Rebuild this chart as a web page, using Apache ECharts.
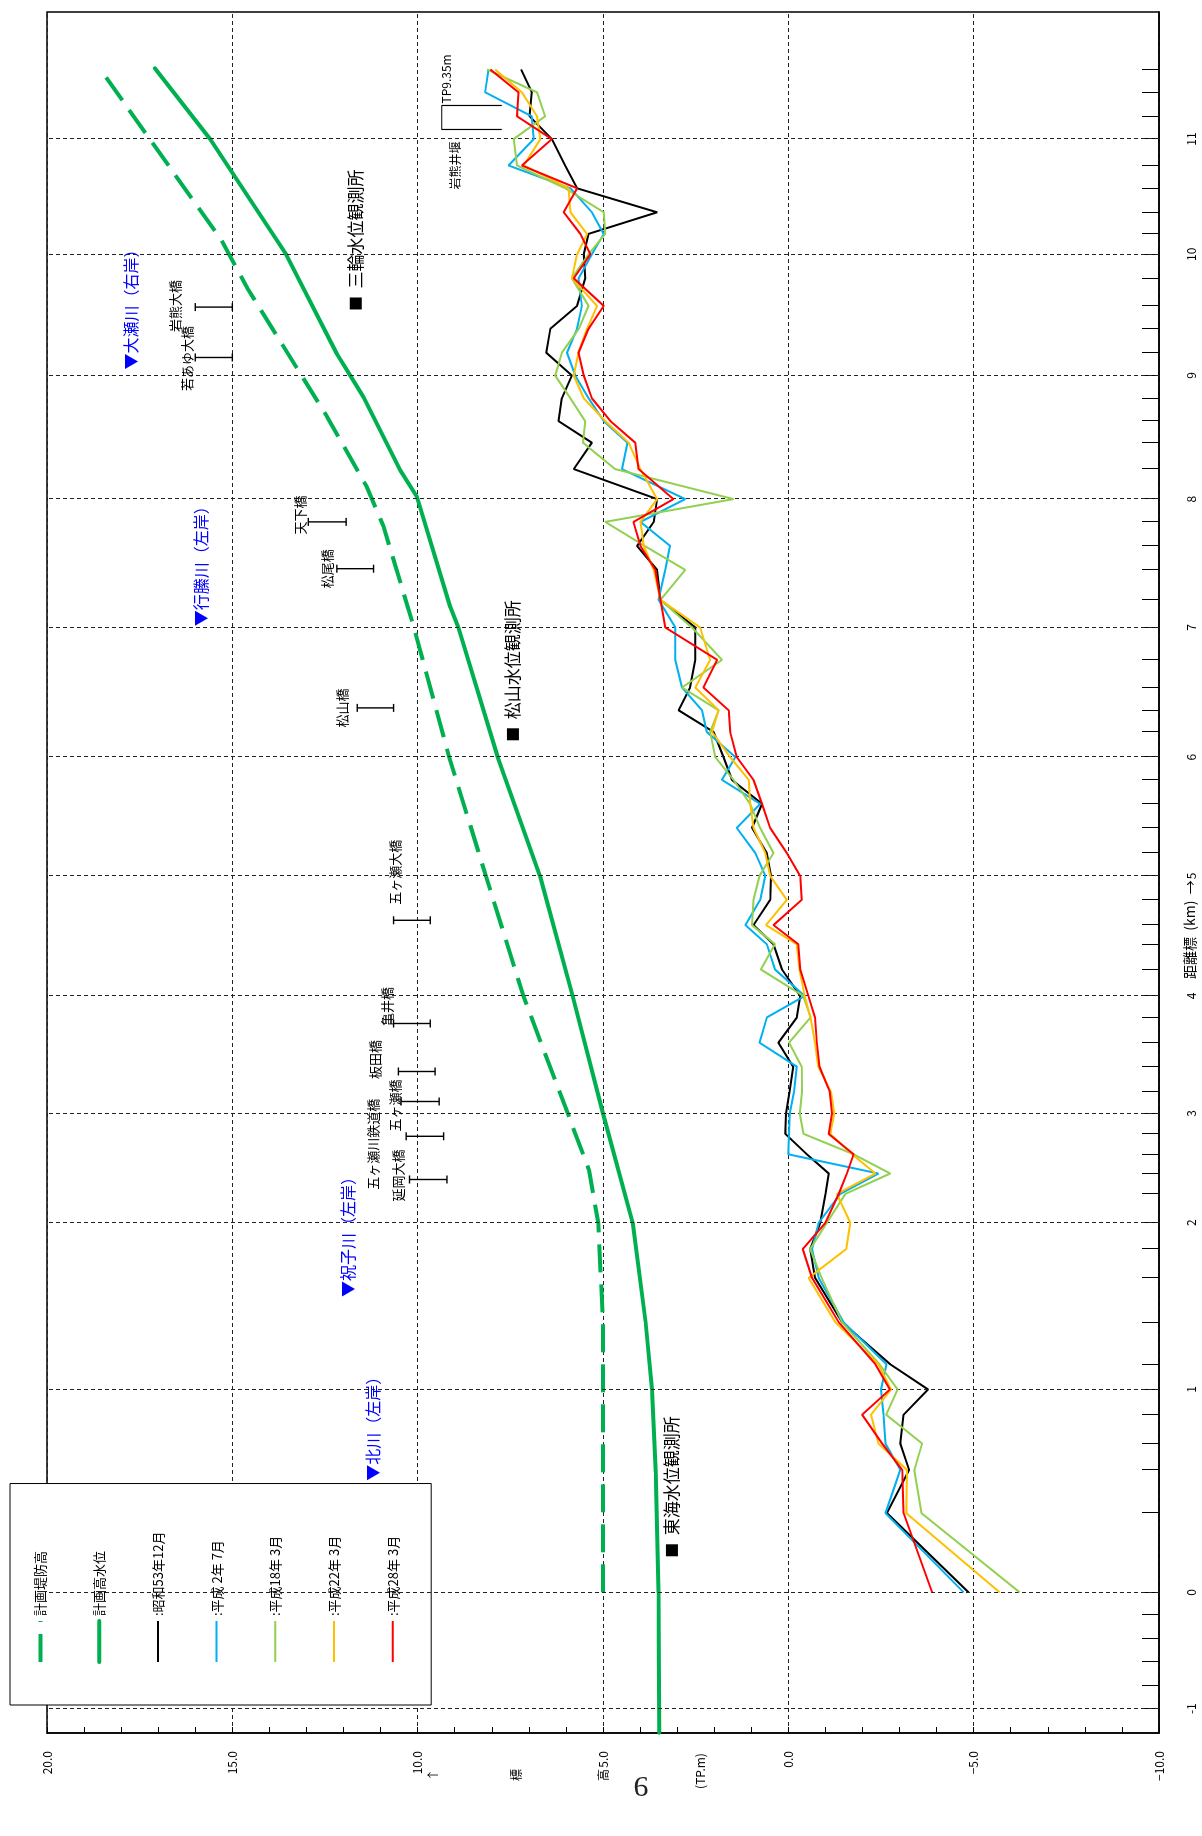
<!DOCTYPE html>
<html>
<head>
<meta charset="utf-8">
<title>五ヶ瀬川 縦断図</title>
<script src="https://cdn.jsdelivr.net/npm/echarts@6/dist/echarts.min.js"></script>
<style>
  html, body { margin: 0; padding: 0; background: #fff; }
  #page { position: relative; width: 1202px; height: 1836px; overflow: hidden; background: #fff; }
  /* the profile is laid out landscape and turned a quarter turn onto the portrait page */
  #chart { position: absolute; left: 0; top: 0; width: 1836px; height: 1202px;
           transform-origin: 0 0; transform: translate(0, 1836px) rotate(-90deg); }
</style>
</head>
<body>
<div id="page"><div id="chart"></div></div>
<script>
// ---- distance posts (距離標) and their measured position along the river ----
const postKm  = [-1, 0, 1, 2, 3, 4, 5, 6, 7, 8, 9, 10, 11];
const postPos = [-0.97, 0, 1.69, 3.08, 3.99, 4.97, 5.97, 6.96, 8.04, 9.11, 10.14, 11.15, 12.11];

// survey sections every 200 m (0.0k ... 11.6k), position along the river
const sectionPos = [0, 0.66, 1.02, 1.24, 1.48, 1.69, 1.90, 2.25, 2.62, 2.86,
  3.08, 3.32, 3.49, 3.65, 3.82, 3.99, 4.17, 4.38, 4.58, 4.79,
  4.97, 5.19, 5.40, 5.56, 5.77, 5.97, 6.16, 6.37, 6.57, 6.77,
  6.96, 7.17, 7.35, 7.54, 7.77, 8.04, 8.27, 8.52, 8.72, 8.92,
  9.11, 9.36, 9.58, 9.76, 9.95, 10.14, 10.33, 10.53, 10.72, 10.95,
  11.15, 11.32, 11.50, 11.70, 11.89, 12.11, 12.30, 12.50, 12.69];
const subPostPos = [-0.78, -0.58, -0.39, -0.19];

// riverbed elevation (TP.m) at each section
const bedS53 = [-4.86, -2.66, -3.26, -3.02, -3.11, -3.77, -2.75, -1.45, -0.72, -0.59,
  -0.86, -1.00, -1.09, -0.50, 0.08, 0.06, -0.03, -0.13, 0.27, -0.23,
  -0.32, 0.17, 0.40, 0.94, 0.49, 0.47, 0.58, 0.98, 0.71, 1.52,
  1.75, 2.02, 2.96, 2.65, 2.51, 2.51, 3.45, 3.54, 4.08, 3.63,
  3.54, 5.79, 5.30, 6.20, 6.11, 5.84, 6.53, 6.42, 5.70, 5.48,
  5.52, 5.39, 3.54, 5.70, 6.02, 6.38, 6.98, 6.92, 7.21];
const bedH02 = [-4.73, -2.62, -3.02, -2.62, -2.57, -2.50, -2.65, -1.49, -0.82, -0.64,
  -0.82, -1.40, -2.43, 0.00, -0.02, -0.04, -0.15, -0.23, 0.78, 0.58,
  -0.44, 0.36, 0.58, 1.16, 0.76, 0.62, 0.89, 1.39, 0.76, 1.79,
  1.43, 2.20, 2.33, 2.87, 3.05, 3.05, 3.50, 3.32, 3.19, 3.99,
  2.78, 4.49, 4.34, 4.98, 5.39, 5.75, 5.97, 5.70, 5.57, 5.66,
  5.30, 4.98, 5.30, 5.88, 7.55, 6.87, 6.92, 8.18, 8.09];
const bedH18 = [-6.24, -3.59, -3.40, -3.61, -2.64, -2.95, -2.46, -1.45, -0.90, -0.59,
  -1.04, -1.54, -2.75, -1.76, -0.41, -0.31, -0.37, -0.36, -0.02, -0.60,
  -0.40, 0.74, 0.36, 0.98, 0.94, 0.78, 0.40, 0.76, 1.03, 1.48,
  1.97, 2.11, 1.88, 2.87, 1.79, 2.60, 3.45, 2.78, 3.88, 4.94,
  1.48, 4.67, 5.54, 5.48, 5.88, 6.29, 6.11, 5.65, 5.39, 5.84,
  5.39, 4.94, 4.98, 6.02, 7.32, 7.41, 6.56, 6.78, 8.13];
const bedH22 = [-5.70, -3.18, -3.20, -2.43, -2.23, -2.77, -2.43, -1.27, -0.55, -1.56,
  -1.67, -1.31, -2.35, -1.72, -1.13, -1.24, -1.15, -0.81, -0.72, -0.60,
  -0.44, -0.30, -0.23, 0.60, 0.04, 0.49, 0.62, 0.94, 1.03, 1.07,
  1.57, 2.06, 1.88, 2.51, 2.11, 2.38, 3.45, 3.63, 3.90, 3.99,
  3.54, 3.99, 4.31, 4.94, 5.52, 5.79, 5.66, 5.43, 5.16, 5.84,
  5.70, 5.43, 5.88, 5.93, 7.14, 6.69, 6.78, 7.19, 7.91];
const bedH28 = [-3.88, -3.11, -3.07, -2.53, -1.99, -2.74, -2.35, -1.36, -0.64, -0.39,
  -1.00, -1.36, -1.58, -1.76, -1.09, -1.18, -1.12, -0.84, -0.77, -0.72,
  -0.54, -0.32, -0.27, 0.40, -0.36, -0.32, 0.04, 0.49, 0.71, 0.94,
  1.39, 1.57, 1.61, 2.29, 1.92, 3.32, 3.45, 3.59, 3.99, 4.18,
  3.10, 4.04, 4.13, 4.80, 5.30, 5.52, 5.66, 5.39, 4.98, 5.79,
  5.34, 5.61, 6.06, 5.70, 7.19, 6.38, 7.32, 7.28, 8.04];

// planned levee crown (計画堤防高) and planned high water level (計画高水位)
const leveePos  = [0, 2.25, 3.08, 3.52, 3.99, 4.97, 5.97, 6.96, 8.05, 8.88, 9.21, 9.80, 10.87, 11.27, 12.70];
const leveeElev = [5.0, 5.0, 5.13, 5.38, 5.95, 7.15, 8.16, 9.15, 10.11, 10.92, 11.37, 12.45, 14.60, 15.30, 18.58];
const hwlPos  = [-1.17, 0, 1.0, 1.69, 2.25, 3.08, 3.99, 4.97, 5.97, 6.96, 8.04, 8.21, 9.13, 9.35, 9.96, 10.14, 10.32, 11.15, 12.11, 12.70];
const hwlElev = [3.48, 3.50, 3.58, 3.68, 3.85, 4.20, 5.00, 5.82, 6.70, 7.84, 8.90, 9.12, 10.02, 10.47, 11.46, 11.82, 12.18, 13.55, 15.60, 17.09];

// bridges: name, position, girder range (TP.m)
const bridgeName   = ['延岡大橋', '五ヶ瀬川鉄道橋', '五ヶ瀬橋', '板田橋', '亀井橋', '五ヶ瀬大橋', '松山橋', '松尾橋', '天下橋', '若あゆ大橋', '岩熊大橋'];
const bridgePos    = [3.44, 3.80, 4.09, 4.34, 4.74, 5.60, 7.37, 8.53, 8.92, 10.29, 10.71];
const bridgeTop    = [10.22, 10.31, 10.45, 10.52, 10.65, 10.65, 11.63, 12.18, 12.95, 16.0, 16.0];
const bridgeBottom = [9.21, 9.30, 9.42, 9.53, 9.66, 9.66, 10.65, 11.19, 11.93, 15.0, 15.0];

// water level stations
const stationName = ['東海水位観測所', '松山水位観測所', '三輪水位観測所'];
const stationPos  = [0.35, 7.15, 10.74];
const stationElev = [3.14, 7.43, 11.67];

// tributary confluences
const tributaryName = ['▼北川（左岸）', '▼祝子川（左岸）', '▼行縢川（左岸）', '▼大瀬川（右岸）'];
const tributaryPos  = [0.93, 2.46, 8.05, 10.19];
const tributaryElev = [11.22, 11.87, 15.84, 17.73];

// 岩熊井堰 (crest TP 9.35 m)
const weirPos  = [12.19, 12.39];
const weirCrest = 9.35;
const weirFoot  = 7.73;

const elevTicks = [-10, 20, 5];

// ---- drawing ----
const JP = '"Noto Sans CJK JP", "Noto Sans", sans-serif';
const zip = (xs, ys) => xs.map((x, i) => [x, ys[i]]);

// label offsets of the bridge names from the top of each girder mark (px)
const bridgeLabelShift = [[4, -11], [-8, -33], [-4, -6], [12, -23], [17, -7], [48, 1],
                          [0, -15], [0, -10], [7, -8], [-1, -8], [1, -20]];

const GREEN = '#00B050';
const levyLine = { color: GREEN, width: 4, type: [28, 12] };
const hwlLine = { color: GREEN, width: 4, cap: 'round' };

const profiles = [
  { name: '昭和53年12月', data: bedS53, color: '#000000' },
  { name: '平成 2年 7月', data: bedH02, color: '#00B0F0' },
  { name: '平成18年 3月', data: bedH18, color: '#92D050' },
  { name: '平成22年 3月', data: bedH22, color: '#FFC000' },
  { name: '平成28年 3月', data: bedH28, color: '#FF0000' }
];

const gridDash = { color: '#222', width: 1, type: [4, 3] };

const series = [
  {
    name: '計画堤防高', type: 'line', data: zip(leveePos, leveeElev),
    symbol: 'none', z: 3,
    lineStyle: levyLine,
    itemStyle: { color: GREEN },
    markLine: {
      silent: true, symbol: 'none', animation: false,
      label: { show: false },
      lineStyle: gridDash,
      data: postPos.map(p => ({ xAxis: p }))
    }
  },
  {
    name: '計画高水位', type: 'line', data: zip(hwlPos, hwlElev),
    symbol: 'none', z: 3,
    lineStyle: hwlLine,
    itemStyle: { color: GREEN }
  }
].concat(profiles.map((p, k) => ({
  name: p.name, type: 'line', data: zip(sectionPos, p.data),
  symbol: 'none', z: 4 + k,
  lineStyle: { color: p.color, width: 2 },
  itemStyle: { color: p.color }
})));

// weir outline
series.push({
  name: '岩熊井堰', type: 'line', symbol: 'none', z: 4,
  data: [[weirPos[0], weirFoot], [weirPos[0], weirCrest], [weirPos[1], weirCrest], [weirPos[1], weirFoot]],
  lineStyle: { color: '#000', width: 1.2 }
});

// bridges
series.push({
  name: '橋梁', type: 'custom', z: 6,
  data: bridgePos.map((p, i) => [p, bridgeTop[i], bridgeBottom[i]]),
  renderItem: (params, api) => {
    const i = params.dataIndex;
    const a = api.coord([api.value(0), api.value(1)]);
    const b = api.coord([api.value(0), api.value(2)]);
    const st = { stroke: '#000', lineWidth: 1.4 };
    const sh = bridgeLabelShift[i];
    return {
      type: 'group', children: [
        { type: 'line', shape: { x1: a[0], y1: a[1], x2: b[0], y2: b[1] }, style: st },
        { type: 'line', shape: { x1: a[0] - 4, y1: a[1], x2: a[0] + 4, y2: a[1] }, style: st },
        { type: 'line', shape: { x1: b[0] - 4, y1: b[1], x2: b[0] + 4, y2: b[1] }, style: st },
        { type: 'text', x: a[0] + sh[0], y: a[1] + sh[1],
          style: { text: bridgeName[i], fill: '#000', font: '13px ' + JP, align: 'center', verticalAlign: 'middle' } }
      ]
    };
  }
});

// water level stations
series.push({
  name: '水位観測所', type: 'custom', z: 6,
  data: stationPos.map((p, i) => [p, stationElev[i]]),
  renderItem: (params, api) => {
    const c = api.coord([api.value(0), api.value(1)]);
    return {
      type: 'group', children: [
        { type: 'rect', shape: { x: c[0] - 6, y: c[1] - 6, width: 12, height: 12 }, style: { fill: '#000' } },
        { type: 'text', x: c[0] + 15, y: c[1],
          style: { text: stationName[params.dataIndex], fill: '#000', font: '17px ' + JP, align: 'left', verticalAlign: 'middle' } }
      ]
    };
  }
});

// tributary confluences
series.push({
  name: '支川', type: 'custom', z: 6,
  data: tributaryPos.map((p, i) => [p, tributaryElev[i]]),
  renderItem: (params, api) => {
    const c = api.coord([api.value(0), api.value(1)]);
    return {
      type: 'text', x: c[0], y: c[1],
      style: { text: tributaryName[params.dataIndex], fill: '#0000FF', font: '16px ' + JP, align: 'left', verticalAlign: 'middle' }
    };
  }
});

// weir captions
series.push({
  name: '井堰注記', type: 'custom', z: 6,
  data: [[weirPos[1], weirCrest]],
  renderItem: (params, api) => {
    const top = api.coord([weirPos[1], weirCrest]);
    const mid = api.coord([(weirPos[0] + weirPos[1]) / 2, weirCrest]);
    return {
      type: 'group', children: [
        { type: 'text', x: top[0] + 2, y: top[1] + 5,
          style: { text: 'TP9.35m', fill: '#000', font: '12px ' + JP, align: 'left', verticalAlign: 'middle' } },
        { type: 'text', x: mid[0] - 48, y: mid[1] + 14,
          style: { text: '岩熊井堰', fill: '#000', font: '12px ' + JP, align: 'center', verticalAlign: 'middle' } }
      ]
    };
  }
});

const nearestPost = v => {
  let best = 0;
  postPos.forEach((p, i) => { if (Math.abs(p - v) < Math.abs(postPos[best] - v)) best = i; });
  return postKm[best];
};

const legendItems = [
  { name: '計画堤防高', lineStyle: levyLine },
  { name: '計画高水位', lineStyle: hwlLine }
].concat(profiles.map(p => ({ name: p.name, lineStyle: { color: p.color, width: 2 } })));

const option = {
  animation: false,
  backgroundColor: '#fff',
  grid: { left: 103, right: 12, top: 47, bottom: 43, show: true, borderColor: '#000', borderWidth: 1.5, backgroundColor: 'transparent' },
  xAxis: {
    type: 'value', min: -1.1725, max: 13.169,
    axisLine: { show: true, onZero: false, lineStyle: { color: '#000', width: 1.5 } },
    axisTick: { show: true, inside: true, length: 17, customValues: [-0.97].concat(subPostPos, sectionPos),
                lineStyle: { color: '#000', width: 1 } },
    axisLabel: { show: true, customValues: postPos, margin: 26, fontSize: 12, fontFamily: JP, color: '#000',
                 formatter: v => String(nearestPost(v)) },
    splitLine: { show: false }
  },
  yAxis: {
    type: 'value', min: elevTicks[0], max: elevTicks[1], interval: elevTicks[2],
    axisLine: { show: true, onZero: false, lineStyle: { color: '#000', width: 1.5 } },
    axisTick: { show: true, inside: true, length: 6, lineStyle: { color: '#000' } },
    minorTick: { show: true, splitNumber: 5, length: 6, lineStyle: { color: '#000' } },
    axisLabel: { margin: 18, fontSize: 12, fontFamily: JP, color: '#000',
                 formatter: v => (v < 0 ? '−' : '') + Math.abs(v).toFixed(1) },
    splitLine: { show: true, lineStyle: gridDash }
  },
  legend: {
    orient: 'vertical', left: 131, top: 10,
    itemWidth: 41, itemHeight: 14, itemGap: 45.7,
    padding: [24, 48, 32, 41],
    backgroundColor: '#fff', borderColor: '#000', borderWidth: 1,
    selectedMode: false,
    itemStyle: { opacity: 0 },
    textStyle: { fontSize: 13, fontFamily: JP, color: '#000' },
    data: legendItems,
    formatter: n => (n.indexOf('計画') === 0 ? n : ':' + n)
  },
  graphic: [
    { type: 'text', x: 857, y: 1190, style: { text: '距離標  (km)  →', font: '14px ' + JP, fill: '#000', align: 'left', verticalAlign: 'middle' } },
    { type: 'text', x: 61, y: 433, style: { text: '↑', font: '12px ' + JP, fill: '#000', align: 'center', verticalAlign: 'middle' } },
    { type: 'text', x: 61, y: 516, style: { text: '標', font: '12px ' + JP, fill: '#000', align: 'center', verticalAlign: 'middle' } },
    { type: 'text', x: 61, y: 603, style: { text: '高', font: '12px ' + JP, fill: '#000', align: 'center', verticalAlign: 'middle' } },
    { type: 'text', x: 65, y: 700, style: { text: '(TP.m)', font: '12px ' + JP, fill: '#000', align: 'center', verticalAlign: 'middle' } },
    { type: 'text', x: 51, y: 641, rotation: Math.PI / 2,
      style: { text: '9', font: '30px "Liberation Serif", serif', fill: '#222', align: 'center', verticalAlign: 'middle' } }
  ],
  series: series
};

const chart = echarts.init(document.getElementById('chart'), null, { renderer: 'canvas', width: 1836, height: 1202 });
chart.setOption(option);
</script>
</body>
</html>
